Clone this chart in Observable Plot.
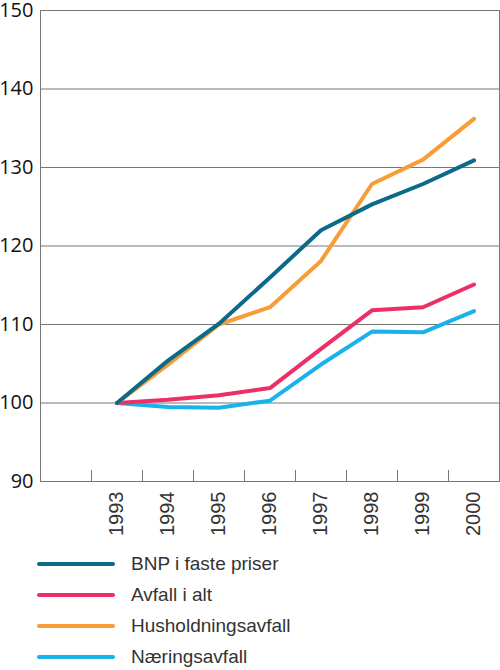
<!DOCTYPE html>
<html>
<head>
<meta charset="utf-8">
<script src="https://cdn.jsdelivr.net/npm/d3@7"></script>
<script src="https://cdn.jsdelivr.net/npm/@observablehq/plot@0.6"></script>
<style>
	body { margin: 0; background: #fff; width: 500px; }
	#legend { margin-top: 7px; font-family: "Liberation Sans", Arial, sans-serif; font-size: 19px; color: #333; }
	.row { display: flex; align-items: center; height: 31px; }
	.row svg { margin-left: 37px; margin-right: 16px; }
</style>
</head>
<body>
<div id="chart"></div>
<div id="legend"></div>
<script>
// data
const years = [1993, 1994, 1995, 1996, 1997, 1998, 1999, 2000];
const series = ['BNP i faste priser', 'Avfall i alt', 'Husholdningsavfall', 'Næringsavfall'];
const colors = ['#0b6a89', '#ec2f66', '#f89c38', '#19b2ea'];
const bnp = [100, 105.4, 110.1, 116.0, 122.0, 125.3, 127.9, 130.9];
const avfall = [100, 100.4, 101.0, 101.9, 106.9, 111.8, 112.2, 115.1];
const husholdning = [100, 104.9, 110.0, 112.2, 118.1, 127.9, 131.0, 136.2];
const naering = [100, 99.5, 99.4, 100.3, 104.9, 109.1, 109.0, 111.7];
const yTicks = [90, 100, 110, 120, 130, 140, 150];
const gridTicks = [100, 110, 120, 130, 140, 150];
const xBounds = [1992.5, 1993.5, 1994.5, 1995.5, 1996.5, 1997.5, 1998.5, 1999.5];

const values = [bnp, avfall, husholdning, naering];
let data = [];
// draw order: light blue, red, orange, teal on top
[3, 1, 2, 0].forEach(i => {
	years.forEach((yr, j) => data.push({series: series[i], year: yr, value: values[i][j]}));
});


// plot
let fig = Plot.plot({
	width: 500,
	height: 541,
	marginLeft: 40,
	marginRight: 1,
	marginTop: 10,
	marginBottom: 60,
	style: {fontFamily: '"Liberation Sans", Arial, sans-serif', background: '#fff', overflow: 'visible'},
	x: {domain: [1991.5, 2000.5]},
	y: {domain: [90, 150]},
	color: {domain: series, range: colors},
	marks: [
		Plot.gridY(gridTicks, {stroke: '#777', strokeOpacity: 1}),
		Plot.frame({stroke: '#777'}),
		Plot.axisY(yTicks, {
			tickSize: 0,
			tickPadding: 7,
			fontSize: 20,
			fontFamily: '"Open Sans", sans-serif',
			fill: '#111',
			label: null
		}),
		Plot.axisX(xBounds, {
			tickSize: -11,
			stroke: '#777',
			tickFormat: () => '',
			label: null
		}),
		Plot.axisX(years, {
			tickSize: 0,
			tickPadding: 10,
			tickRotate: -90,
			tickFormat: d => String(d),
			fontSize: 20,
			fill: '#333',
			label: null
		}),
		Plot.line(data, {
			x: 'year',
			y: 'value',
			z: 'series',
			stroke: 'series',
			strokeWidth: 4,
			strokeLinecap: 'round',
			strokeLinejoin: 'round'
		})
	]
});

document.querySelector('#chart').append(fig);


// legend
const legend = document.querySelector('#legend');
series.forEach((name, i) => {
	const row = document.createElement('div');
	row.className = 'row';
	row.innerHTML = `<svg width="78" height="8"><line x1="2" y1="4" x2="76" y2="4" stroke="${colors[i]}" stroke-width="4" stroke-linecap="round"/></svg><span>${name}</span>`;
	legend.append(row);
});
</script>
</body>
</html>
